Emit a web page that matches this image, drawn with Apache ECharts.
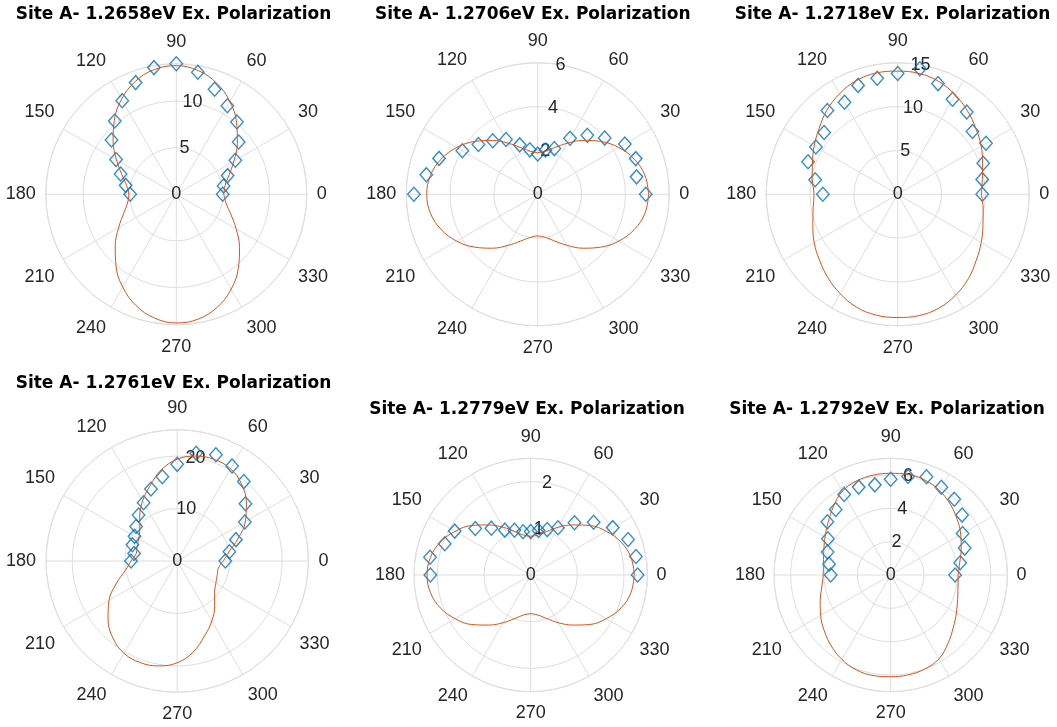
<!DOCTYPE html>
<html>
<head>
<meta charset="utf-8">
<script src="https://cdn.jsdelivr.net/npm/echarts/dist/echarts.min.js"></script>
<style>
  html, body { margin: 0; padding: 0; background: #ffffff; }
  #chart { width: 1057px; height: 727px; }
</style>
</head>
<body>
<div id="chart"></div>
<script>
// Polarization angle (deg) of each measured point and of the fitted curve
const DATA_ANGLES = [0, 10, 20, 30, 40, 50, 60, 70, 80, 90, 100, 110, 120, 130, 140, 150, 160, 170, 180];
const FIT_ANGLES = [0, 10, 20, 30, 40, 50, 60, 70, 80, 90, 100, 110, 120, 130, 140, 150, 160, 170,
                    180, 190, 200, 210, 220, 230, 240, 250, 260, 270, 280, 290, 300, 310, 320, 330, 340, 350, 360];

// Panel titles
const TITLES = [
  'Site A- 1.2658eV Ex. Polarization',
  'Site A- 1.2706eV Ex. Polarization',
  'Site A- 1.2718eV Ex. Polarization',
  'Site A- 1.2761eV Ex. Polarization',
  'Site A- 1.2779eV Ex. Polarization',
  'Site A- 1.2792eV Ex. Polarization'
];

// Radial limits and tick spacing per panel
const R_MAX = [14, 6, 15, 25, 2.5, 7];
const R_STEP = [5, 2, 5, 10, 1, 2];

// Measured intensities (one per DATA_ANGLES entry)
const meas12658 = [4.98, 5.15, 5.86, 7.31, 8.73, 10.12, 10.96, 12.0, 13.3, 14.0, 13.8, 12.75, 11.6, 10.27, 9.07, 7.46, 6.36, 5.52, 4.95];
const meas12706 = [4.93, 4.58, 4.76, 4.59, 3.99, 3.52, 2.95, 2.22, 2.05, 1.84, 2.06, 2.40, 2.89, 3.19, 3.53, 3.97, 4.79, 5.16, 5.65];
const meas12718 = [9.64, 9.79, 10.38, 11.63, 11.14, 12.25, 12.51, 13.44, 14.54, 13.78, 13.45, 13.22, 12.13, 12.48, 10.96, 10.78, 10.88, 9.56, 8.54];
const meas12761 = [9.17, 10.1, 11.9, 14.88, 16.98, 19.75, 20.92, 21.56, 20.85, 18.42, 16.32, 14.61, 12.8, 11.46, 10.22, 9.4, 9.08, 8.34, 8.8];
const meas12779 = [2.29, 2.29, 2.22, 2.03, 1.76, 1.46, 1.17, 1.035, 0.97, 0.93, 0.94, 1.02, 1.11, 1.31, 1.55, 1.88, 1.96, 2.19, 2.15];
const meas12792 = [3.86, 4.23, 4.72, 4.98, 5.59, 5.93, 6.08, 6.27, 6.0, 5.74, 5.49, 5.61, 5.58, 5.13, 4.96, 4.35, 4.03, 3.75, 3.6];

// Fitted intensity curves (one per FIT_ANGLES entry)
const fit12658 = [5.10, 5.31, 6.02, 7.14, 8.55, 10.06, 11.49, 12.68, 13.48, 13.80, 13.59, 12.88, 11.76, 10.35, 8.85, 7.41, 6.22, 5.42,
                  5.10, 5.31, 6.02, 7.14, 8.55, 10.06, 11.49, 12.68, 13.48, 13.80, 13.59, 12.88, 11.76, 10.35, 8.85, 7.41, 6.22, 5.42, 5.10];
const fit12706 = [5.06, 4.97, 4.69, 4.27, 3.75, 3.21, 2.69, 2.27, 2.00, 1.90, 2.00, 2.27, 2.69, 3.21, 3.75, 4.27, 4.69, 4.97,
                  5.06, 4.97, 4.69, 4.27, 3.75, 3.21, 2.69, 2.27, 2.00, 1.90, 2.00, 2.27, 2.69, 3.21, 3.75, 4.27, 4.69, 4.97, 5.06];
const fit12718 = [9.55, 9.80, 10.30, 11.00, 11.65, 12.40, 13.10, 13.70, 14.00, 14.05, 14.05, 13.80, 13.25, 12.55, 11.70, 11.00, 10.35, 9.90,
                  9.55, 9.80, 10.30, 11.00, 11.65, 12.40, 13.10, 13.70, 14.00, 14.05, 14.05, 13.80, 13.25, 12.55, 11.70, 11.00, 10.35, 9.90, 9.55];
const fit12761 = [8.8, 10.0, 12.3, 15.0, 17.2, 19.1, 20.3, 20.6, 20.3, 19.4, 17.6, 15.2, 13.2, 11.1, 9.3, 8.5, 8.1, 7.95,
                  8.8, 10.0, 12.3, 15.0, 17.2, 19.1, 20.3, 20.6, 20.3, 19.4, 17.6, 15.2, 13.2, 11.1, 9.3, 8.5, 8.1, 7.95, 8.8];
const fit12779 = [2.22, 2.18, 2.06, 1.87, 1.65, 1.40, 1.18, 0.99, 0.87, 0.83, 0.87, 0.99, 1.18, 1.40, 1.65, 1.87, 2.06, 2.18,
                  2.22, 2.18, 2.06, 1.87, 1.65, 1.40, 1.18, 0.99, 0.87, 0.83, 0.87, 0.99, 1.18, 1.40, 1.65, 1.87, 2.06, 2.18, 2.22];
const fit12792 = [4.05, 4.20, 4.50, 4.85, 5.20, 5.55, 5.85, 6.05, 6.12, 6.10, 6.08, 6.00, 5.80, 5.35, 4.90, 4.55, 4.27, 4.10,
                  4.05, 4.20, 4.50, 4.85, 5.20, 5.55, 5.85, 6.05, 6.12, 6.10, 6.08, 6.00, 5.80, 5.35, 4.90, 4.55, 4.27, 4.10, 4.05];

const MEAS = [meas12658, meas12706, meas12718, meas12761, meas12779, meas12792];
const FITS = [fit12658, fit12706, fit12718, fit12761, fit12779, fit12792];

// Panel geometry (pixels): polar centre, outer radius, title anchor, label gap
const LAYOUT = [
  { cx: 176.3, cy: 194.3, r: 130.5, tx: 173.5, ty: 6.5,   gap: 10 },
  { cx: 537.7, cy: 194.3, r: 131.5, tx: 532.8, ty: 6.5,   gap: 10 },
  { cx: 897.7, cy: 194.3, r: 131.5, tx: 892.5, ty: 6.5,   gap: 10 },
  { cx: 177.2, cy: 561.0, r: 131.2, tx: 173.5, ty: 375.5, gap: 10 },
  { cx: 530.7, cy: 575.0, r: 116.7, tx: 527.0, ty: 401.5, gap: 9 },
  { cx: 890.7, cy: 575.0, r: 116.7, tx: 887.0, ty: 401.5, gap: 9 }
];

const GRID = '#dedede';
const TEXT = '#262626';
const TICK_FONT = 'Liberation Sans, Arial, Helvetica, sans-serif';
const TITLE_FONT = 'DejaVu Sans, sans-serif';

const polar = [], angleAxis = [], radiusAxis = [], series = [], title = [];
const n = TITLES.length;

TITLES.forEach((text, i) => {
  const L = LAYOUT[i];
  title.push({
    text: text, left: L.tx, top: L.ty, textAlign: 'center', padding: 0,
    textStyle: { fontFamily: TITLE_FONT, fontWeight: 'bold', fontSize: 17, color: '#000000' }
  });

  // grid polar: spokes, rings and angle labels
  polar.push({ center: [L.cx, L.cy], radius: L.r });
  angleAxis.push({
    polarIndex: i, type: 'value', min: 0, max: 360, interval: 30,
    startAngle: 0, clockwise: false,
    axisLine: { show: true, lineStyle: { color: GRID, width: 1 } },
    axisTick: { show: false },
    axisLabel: {
      show: true, margin: L.gap, color: TEXT, fontFamily: TICK_FONT, fontSize: 18, lineHeight: 24,
      formatter: v => (v >= 360 ? '' : String(v))
    },
    splitLine: { show: true, lineStyle: { color: GRID, width: 1 } }
  });
  radiusAxis.push({
    polarIndex: i, type: 'value', min: 0, max: R_MAX[i], interval: R_STEP[i],
    axisLine: { show: false }, axisTick: { show: false }, axisLabel: { show: false },
    splitLine: { show: true, lineStyle: { color: GRID, width: 1 } }
  });

  series.push({
    type: 'scatter', coordinateSystem: 'polar', polarIndex: i,
    data: DATA_ANGLES.map((a, k) => [MEAS[i][k], a]),
    symbol: 'diamond', symbolSize: [12.5, 14],
    itemStyle: { color: 'rgba(0,0,0,0)', borderColor: '#0072BD', borderWidth: 1.4 },
    z: 3, silent: true
  });
  series.push({
    type: 'line', coordinateSystem: 'polar', polarIndex: i,
    data: FIT_ANGLES.map((a, k) => [FITS[i][k], a]),
    showSymbol: false, symbol: 'none', smooth: 0.4,
    lineStyle: { color: '#D95319', width: 1 },
    z: 4, silent: true
  });
});

// second polar per panel carries the radial tick labels along the 80 degree ray
TITLES.forEach((text, i) => {
  const L = LAYOUT[i];
  const j = n + i;
  const step = R_STEP[i];
  polar.push({ center: [L.cx, L.cy], radius: L.r });
  angleAxis.push({ polarIndex: j, type: 'value', min: 0, max: 360, startAngle: 80, clockwise: false, show: false });
  radiusAxis.push({
    polarIndex: j, type: 'value', min: 0, max: R_MAX[i], interval: step,
    axisLine: { show: false }, axisTick: { show: false }, splitLine: { show: false },
    axisLabel: {
      show: true, margin: 0, align: 'center', verticalAlign: 'middle',
      color: TEXT, fontFamily: TICK_FONT, fontSize: 18,
      formatter: v => (Math.abs(v / step - Math.round(v / step)) < 1e-9 ? String(v) : '')
    }
  });
});

const chart = echarts.init(document.getElementById('chart'), null, { renderer: 'canvas' });
chart.setOption({
  animation: false,
  backgroundColor: '#ffffff',
  title: title,
  polar: polar,
  angleAxis: angleAxis,
  radiusAxis: radiusAxis,
  series: series
});
</script>
</body>
</html>
